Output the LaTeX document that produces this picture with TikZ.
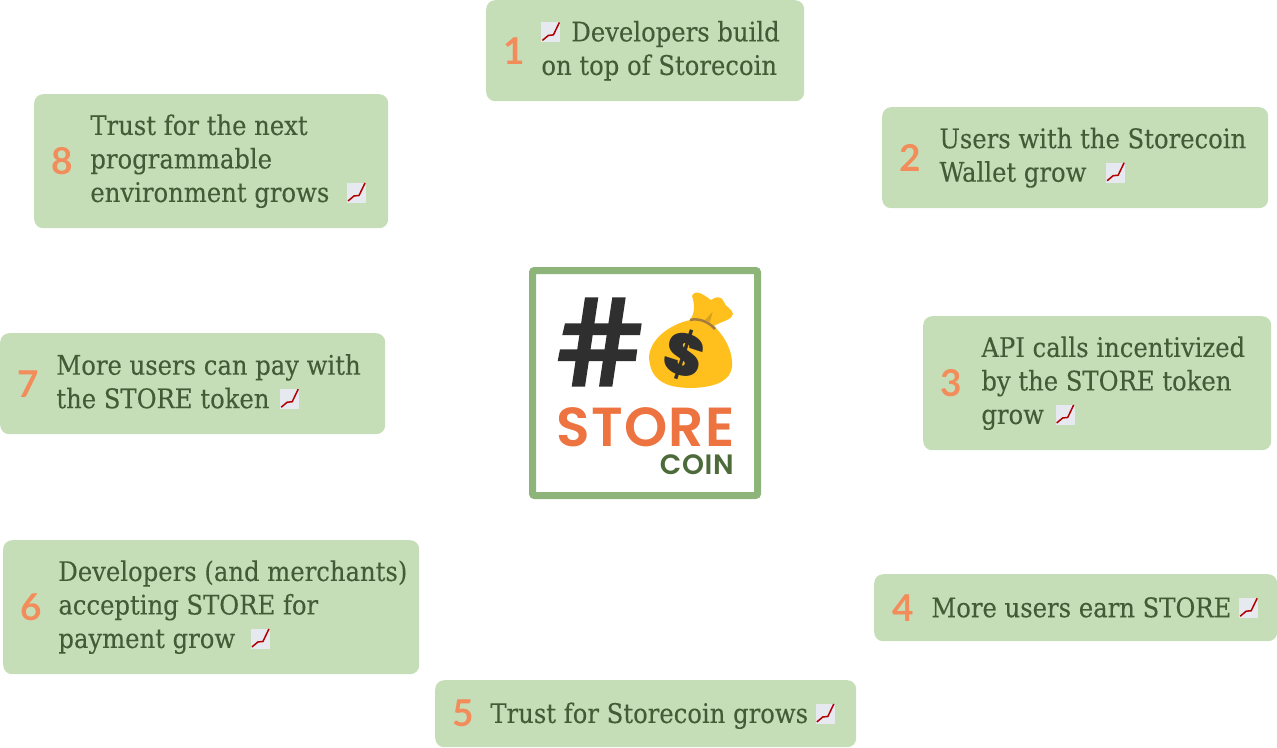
\documentclass[tikz,border=0pt]{standalone}
\usepackage{fontspec}
\usepackage{xcolor}
\usetikzlibrary{positioning}
\setmainfont[FakeBold=0.2]{DejaVu Serif Condensed}
\newfontfamily\numfont{Lato}
\newfontfamily\logofont[LetterSpace=2.5]{Poppins SemiBold}
\definecolor{scgreen}{HTML}{C6DEB8}
\definecolor{scframe}{HTML}{8DB57A}
\definecolor{sctext}{HTML}{425C38}
\definecolor{sccoin}{HTML}{4D6B3A}
\definecolor{scnum}{HTML}{F28C5A}
\definecolor{scstore}{HTML}{ED7440}
\definecolor{scgold}{HTML}{FFC01E}
\definecolor{scfold}{HTML}{D9A21A}
\definecolor{scdark}{HTML}{2F2F2F}
\definecolor{sctie}{HTML}{A67C3D}
\definecolor{scchart}{HTML}{E6E9EF}
% small rising chart, used inside the labels
\newsavebox{\chartbox}
\sbox{\chartbox}{\begin{tikzpicture}[x=1pt,y=1pt]
  \fill[scchart] (0,0) rectangle (19,20);
  \draw[red!70!black, line width=1.5pt] (1,2) -- (7,7) -- (12,7.5) -- (18,20);
\end{tikzpicture}}
\newcommand{\chartup}{\raisebox{-1pt}{\usebox{\chartbox}}}

\begin{document}
\begin{tikzpicture}[
  x=1pt, y=-1pt,
  note/.style={fill=scgreen, rounded corners=9pt, anchor=north west, inner sep=0pt},
  num/.style={font=\numfont\bfseries\fontsize{37}{37}\selectfont, text=scnum, minimum width=26pt, inner sep=0pt},
  txt/.style={font=\fontsize{27}{33.5}\selectfont, text=sctext, align=left, inner sep=0pt, anchor=west},
  logotxt/.style={text=scstore, anchor=base east, inner sep=0pt},
]
  \useasboundingbox (0,0) rectangle (1277,747);

  \node[note, minimum width=318pt, minimum height=101pt] (box1) at (486,0) {};
  \node[num] (num1) at ([xshift=28pt]box1.west) {1};
  \node[txt, right=14pt of num1] (txt1) {\chartup\hspace{11pt}Developers build\\on top of Storecoin};

  \node[note, minimum width=386pt, minimum height=101pt] (box2) at (882,107) {};
  \node[num] (num2) at ([xshift=28pt]box2.west) {2};
  \node[txt, right=16pt of num2] (txt2) {Users with the Storecoin\\Wallet grow \hspace{12pt}\chartup};

  \node[note, minimum width=348pt, minimum height=134pt] (box3) at (923,316) {};
  \node[num] (num3) at ([xshift=28pt]box3.west) {3};
  \node[txt, right=17pt of num3] (txt3) {API calls incentivized\\by the STORE token\\grow \hspace{4pt}\chartup};

  \node[note, minimum width=403pt, minimum height=67pt] (box4) at (874,574) {};
  \node[num] (num4) at ([xshift=29pt]box4.west) {4};
  \node[txt, right=15pt of num4] (txt4) {More users earn STORE \chartup};

  \node[note, minimum width=421pt, minimum height=67pt] (box5) at (435,680) {};
  \node[num] (num5) at ([xshift=28pt]box5.west) {5};
  \node[txt, right=14pt of num5, yshift=-2pt] (txt5) {Trust for Storecoin grows \chartup};

  \node[note, minimum width=416pt, minimum height=134pt] (box6) at (3,540) {};
  \node[num] (num6) at ([xshift=28pt]box6.west) {6};
  \node[txt, right=14pt of num6] (txt6) {Developers (and merchants)\\accepting STORE for\\payment grow \hspace{8pt}\chartup};

  \node[note, minimum width=385pt, minimum height=101pt] (box7) at (0,333) {};
  \node[num] (num7) at ([xshift=28pt]box7.west) {7};
  \node[txt, right=15pt of num7, yshift=2pt] (txt7) {More users can pay with\\the STORE token \hspace{3pt}\chartup};

  \node[note, minimum width=354pt, minimum height=134pt] (box8) at (34,94) {};
  \node[num] (num8) at ([xshift=28pt]box8.west) {8};
  \node[txt, right=15pt of num8] (txt8) {Trust for the next\\programmable\\environment grows \hspace{10pt}\chartup};

  % logo in the middle
  \node[draw=scframe, line width=7pt, rounded corners=2pt, fill=white, minimum size=225pt, inner sep=0pt] (logo) at (645,383) {};
  \fill[scdark] (585,297.3) -- (598.3,297.3) -- (585,386.7) -- (571.7,386.7) -- cycle;
  \fill[scdark] (612.3,297.3) -- (625.7,297.3) -- (612.3,386.7) -- (599,386.7) -- cycle;
  \fill[scdark] (565,323.3) -- (641.7,323.3) -- (640,335) -- (562.3,335) -- cycle;
  \fill[scdark] (560,349.3) -- (637.3,349.3) -- (635.7,361) -- (557.7,361) -- cycle;
  \fill[scgold] (690,320) .. controls (696,312) and (694,302) .. (692,296)
    .. controls (695,289) and (703,294) .. (711,300)
    .. controls (716,296) and (722,296) .. (724,302)
    .. controls (725,307) and (732,308) .. (733,314)
    .. controls (732,320) and (722,321) .. (714,326)
    .. controls (728,340) and (733,355) .. (732,367)
    .. controls (730,380) and (718,387) .. (692,388)
    .. controls (665,388) and (650,380) .. (649,357)
    .. controls (650,340) and (668,325) .. (690,320) -- cycle;
  \fill[scfold] (705,320) -- (712.7,311.7) -- (710,322) -- cycle;
  \draw[sctie, line width=2.5pt] (690,320) .. controls (698,318) and (708,321) .. (715,329);
  \node[font=\logofont\bfseries\fontsize{58}{58}\selectfont, text=scdark, rotate=-18, inner sep=0pt] (dollar) at (684,355) {\$};
  \node[logotxt, font=\logofont\fontsize{55}{55}\selectfont] (store) at (735,446.7) {STORE};
  \node[logotxt, font=\logofont\fontsize{28}{28}\selectfont, text=sccoin] (coin) at (734,474.3) {COIN};
\end{tikzpicture}
\end{document}
